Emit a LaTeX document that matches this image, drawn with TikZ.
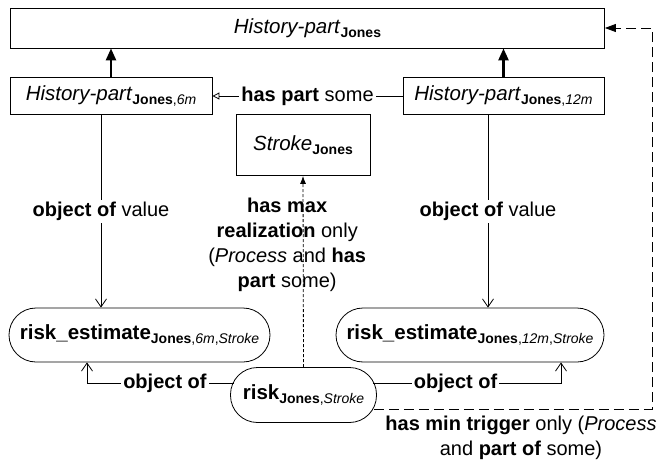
\documentclass[tikz,border=0pt]{standalone}
\usepackage{fontspec}
\setmainfont{Liberation Sans}
\usetikzlibrary{arrows.meta, positioning, calc}
\newcommand{\lowsub}[1]{\raisebox{-0.35ex}{\fontsize{14}{16}\selectfont #1}}

\begin{document}
\begin{tikzpicture}[
    x=1pt, y=-1pt,
    classbox/.style={draw, line width=0.8pt, inner sep=0pt, font={\fontsize{20.5}{24}\selectfont}},
    instnode/.style={draw, rounded corners=27pt, line width=0.8pt, inner sep=0pt, font={\fontsize{20.5}{24}\selectfont}},
    rellabel/.style={fill=white, inner sep=2pt, font={\fontsize{20}{25}\selectfont}},
    isa/.style={line width=2.4pt, -{Triangle[length=12pt, width=10pt]}},
    barb/.style={line width=0.8pt, -{Straight Barb[length=8pt, width=11pt]}},
]
    \useasboundingbox (0,0) rectangle (662,463);
    % classes
    \node[classbox, minimum width=594pt, minimum height=40pt] (hist) at (307.5,28) {\textit{History-part}\lowsub{\textbf{Jones}}};
    \node[classbox, minimum width=202pt, minimum height=37pt] (hist6) at (111,96) {\textit{History-part}\lowsub{\textbf{Jones},\textit{6m}}};
    \node[classbox, minimum width=201pt, minimum height=37pt] (hist12) at (503.5,96) {\textit{History-part}\lowsub{\textbf{Jones},\textit{12m}}};
    \node[classbox, minimum width=134pt, minimum height=61pt] (stroke) at (303,145) {\textit{Stroke}\lowsub{\textbf{Jones}}};
    % instances
    \node[instnode, minimum width=261pt, minimum height=54pt] (est6) at (139.5,335) {\textbf{risk\_estimate}\lowsub{\textbf{Jones},\textit{6m},\textit{Stroke}}};
    \node[instnode, minimum width=268pt, minimum height=54pt] (est12) at (470,335) {\textbf{risk\_estimate}\lowsub{\textbf{Jones},\textit{12m},\textit{Stroke}}};
    \node[instnode, minimum width=146pt, minimum height=55pt] (risk) at (303.5,395) {\textbf{risk}\lowsub{\textbf{Jones},\textit{Stroke}}};
    \coordinate (rail) at (652,28);

    \draw[isa] (hist6.north) -- (hist6.north |- hist.south);
    \draw[isa] (hist12.north) -- (hist12.north |- hist.south);
    \draw[line width=0.8pt, -{Triangle[open, length=7pt, width=7pt]}] (hist12.west) -- node[rellabel] {\textbf{has part} some} (hist6.east);

    \draw[barb] ([xshift=-10pt]hist6.south) -- node[rellabel] {\textbf{object of} value} ([xshift=-10pt]hist6.south |- est6.north);
    \draw[barb] ([xshift=-15.5pt]hist12.south) -- node[rellabel] {\textbf{object of} value} ([xshift=-15.5pt]hist12.south |- est12.north);

    \draw[line width=0.8pt, densely dashed, -{Latex[length=8pt, width=6pt]}] (risk.north) -- node[pos=0.64, xshift=-16pt, align=center, font={\fontsize{20}{25}\selectfont}] {\textbf{has max}\\\textbf{realization} only\\(\textit{Process} and \textbf{has}\\\textbf{part} some)} (stroke.south);

    \draw[barb] ([xshift=4pt, yshift=12pt]risk.west) -| node[rellabel, pos=0.235] {\textbf{object of}} ([xshift=-52.5pt]est6.south);
    \draw[barb] ([xshift=-4pt, yshift=12pt]risk.east) -| node[rellabel, pos=0.22] {\textbf{object of}} ([xshift=91pt]est12.south);

    \draw[line width=0.8pt, dash pattern=on 10pt off 5pt, -{Triangle[length=11pt, width=8pt]}] ([xshift=-3pt, yshift=-14pt]risk.east) -| (rail) -- (hist.east);
    \node[align=center, font={\fontsize{20}{25}\selectfont}] (trigger) at (521,437.5) {\textbf{has min trigger} only (\textit{Process}\\and \textbf{part of} some)};
\end{tikzpicture}
\end{document}
